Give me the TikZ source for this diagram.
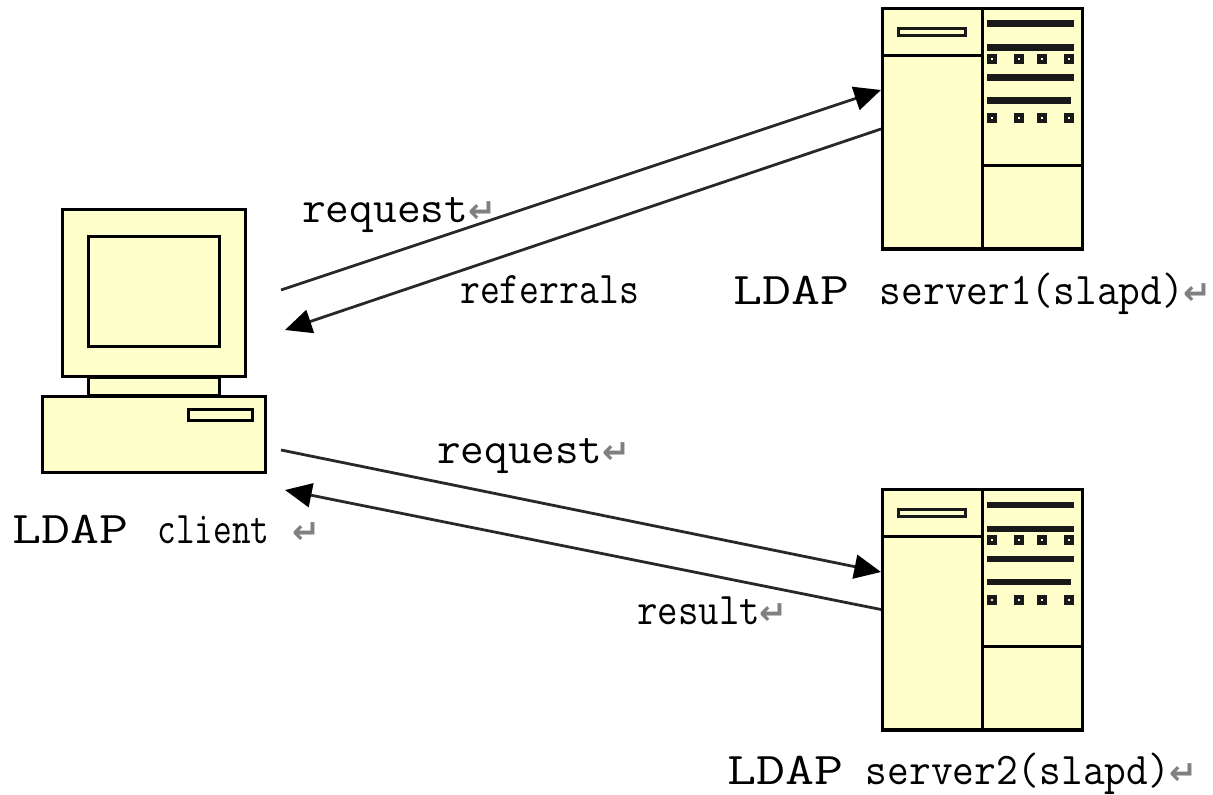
\documentclass[tikz,border=0pt]{standalone}
\usepackage{graphicx}
\usepackage{fontspec}
\usetikzlibrary{arrows.meta}
\newfontfamily\symfont{DejaVu Sans}
\definecolor{paper}{HTML}{FFFFCC}
\definecolor{retgray}{HTML}{808080}
\definecolor{linkgray}{HTML}{282828}
\newcommand{\ret}{{\symfont\bfseries\fontsize{25}{26}\selectfont\textcolor{retgray}{↵}}}
\newcommand{\fitw}[2]{\resizebox{#1pt}{\height}{#2}}
\tikzset{
  outline/.style={draw=black,line width=2.5pt,fill=paper},
  partline/.style={draw=black,line width=2.5pt},
  bar/.style={draw=none,fill=black!90},
  hole/.style={draw=black!90,line width=3pt,fill=paper},
  link/.style={draw=linkgray,line width=2.1pt,-{Triangle[length=20pt,width=18pt,color=black]}},
  lbl/.style={anchor=base west,inner sep=0pt,font=\ttfamily\fontsize{34}{36}\selectfont},
  server/.pic={
    \node[outline,minimum width=150pt,minimum height=180.4pt,inner sep=0pt] (-body) at (100,120.25) {};
    \draw[partline] (100,0) -- (100,240.5);
    \draw[partline] (0,47) -- (100,47);
    \draw[partline] (100,157) -- (200,157);
    \draw[hole,line width=2pt] (16,20) rectangle (83,27);
    \fill[bar] (104.5,12) rectangle (191.5,18.5);
    \fill[bar] (104.5,36) rectangle (191.5,42.5);
    \fill[bar] (104.5,66) rectangle (191.5,72.5);
    \fill[bar] (104.5,89) rectangle (188.5,95.5);
    \foreach \yy in {50.5,110}{
      \foreach \xx in {109.5,136.5,159.5,186.5}{
        \draw[hole] (\xx-3,\yy-3) rectangle (\xx+3,\yy+3);
      }
    }
    \coordinate (-in) at (-1.5,81.5);
    \coordinate (-out) at (-1.5,120.5);
    \coordinate (-in2) at (-1.5,82.5);
    \coordinate (-out2) at (-1.5,120);
  }
}
\begin{document}
\begin{tikzpicture}[x=0.75pt,y=-0.75pt]
\useasboundingbox (0,0) rectangle (1213,795);
% client
\node[outline,minimum width=137.25pt,minimum height=125.25pt,inner sep=0pt] (monitor) at (154,293) {};
\node[outline,minimum width=98.25pt,minimum height=82.5pt,inner sep=0pt] (screen) at (154,291.5) {};
\node[outline,minimum width=98.25pt,minimum height=14pt,inner sep=0pt] (neck) at (154,386.5) {};
\node[outline,minimum width=167.25pt,minimum height=57pt,inner sep=0pt] (base) at (154,434.5) {};
\node[outline,line width=2pt,minimum width=48pt,minimum height=8.25pt,inner sep=0pt] (slot) at (220.5,415) {};
\coordinate (cout1) at (281,290);
\coordinate (cin1) at (285,330);
\coordinate (cout2) at (281,450);
\coordinate (cin2) at (285,490);
% servers
\pic (sa) at (882.5,8.5) {server};
\pic (sb) at (882.5,489.5) {server};
% connectors
\draw[link] (cout1) -- (sa-in);
\draw[link] (sa-out) -- (cin1);
\draw[link] (cout2) -- (sb-in2);
\draw[link] (sb-out2) -- (cin2);
% labels
\node[lbl] (t1) at (302,222) {\fitw{124.5}{request}\ret};
\node[lbl] (t2) at (460,303) {\fitw{134}{referrals}};
\node[lbl] (t3) at (733,304) {\fitw{87}{LDAP}\hspace{23pt}\fitw{228}{server1(slapd)}\ret};
\node[lbl] (t4) at (12,543) {\fitw{87}{LDAP}\hspace{22pt}\fitw{84}{client}\hspace{17pt}\ret};
\node[lbl] (t5) at (437,463) {\fitw{124}{request}\ret};
\node[lbl] (t6) at (637,624) {\fitw{92}{result}\ret};
\node[lbl] (t7) at (727,784) {\fitw{87}{LDAP}\hspace{17pt}\fitw{228}{server2(slapd)}\ret};
\end{tikzpicture}
\end{document}
